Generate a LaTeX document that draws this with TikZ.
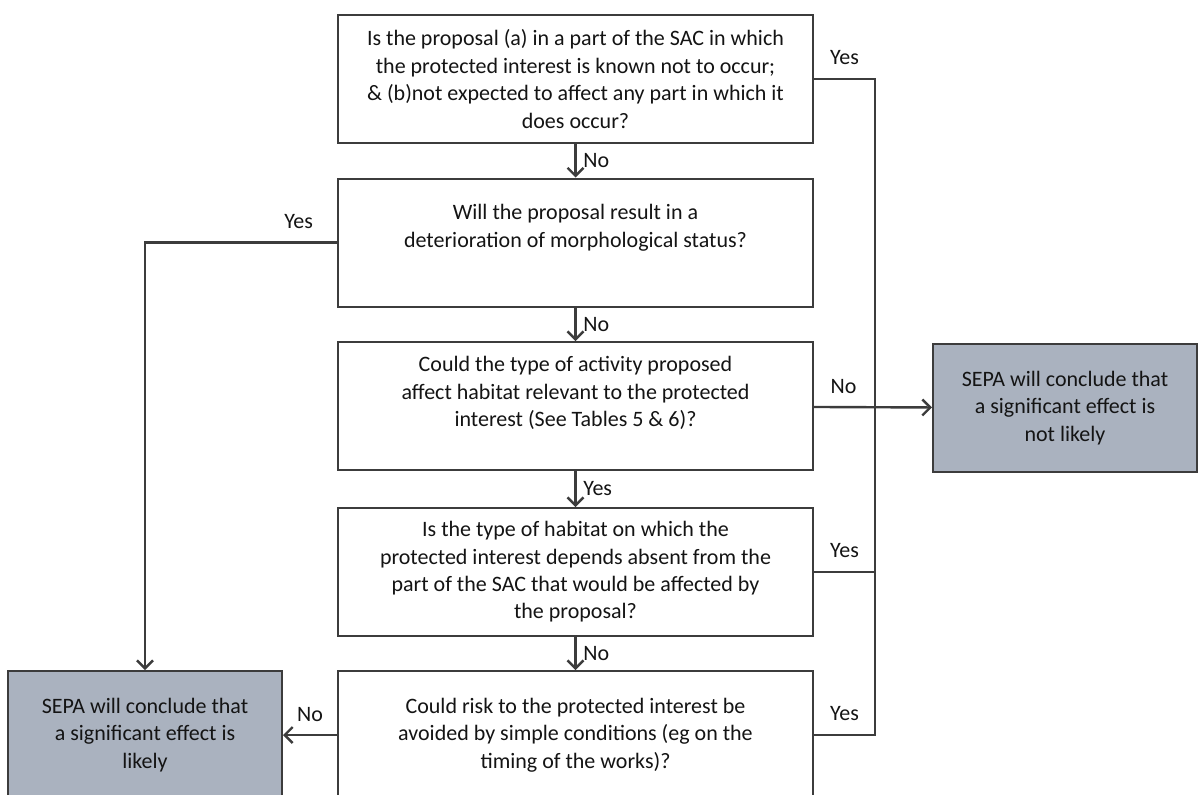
\documentclass[tikz,border=0pt]{standalone}
\usepackage{fontspec}
\setmainfont{Carlito}
\usetikzlibrary{arrows.meta}
\definecolor{linegray}{RGB}{60,60,60}
\definecolor{endfill}{RGB}{170,178,191}

\begin{document}
\begin{tikzpicture}[x=0.5pt,y=-0.5pt,
  every node/.style={font=\fontsize{11}{13.7}\selectfont, text=black!92},
  question/.style={draw=linegray, line width=1pt, fill=white, align=center, minimum width=237.5pt, minimum height=64pt, inner sep=2pt},
  outcome/.style={draw=linegray, line width=1pt, fill=endfill, align=center, minimum height=64pt, inner sep=2pt},
  flow/.style={draw=linegray, line width=1.2pt},
  flowarrow/.style={flow, -{Straight Barb[length=4pt, width=8pt, line width=1.2pt]}},
  answer/.style={above=3pt}]
\useasboundingbox (0,0) rectangle (1198,794);
\node[question] (q1) at (575.5,79) {Is the proposal (a) in a part of the SAC in which\\the protected interest is known not to occur;\\\& (b)not expected to affect any part in which it\\does occur?};
\node[question] (q2) at (575.5,242.5) {Will the proposal result in a\\deterioration of morphological status?\\[3pt]\mbox{}};
\node[question] (q3) at (575.5,406) {Could the type of activity proposed\\affect habitat relevant to the protected\\interest (See Tables 5 \& 6)?\\[0.8pt]\mbox{}};
\node[question] (q4) at (575.5,572) {Is the type of habitat on which the\\protected interest depends absent from the\\part of the SAC that would be affected by\\the proposal?};
\node[question] (q5) at (575.5,735) {Could risk to the protected interest be\\avoided by simple conditions (eg on the\\timing of the works)?};
\node[outcome, minimum width=132pt] (notlikely) at (1065,408) {SEPA will conclude that\\a significant effect is\\not likely};
\node[outcome, minimum width=137pt] (likely) at (145,735) {SEPA will conclude that\\a significant effect is\\likely};
\coordinate (bus) at (875,0);
\draw[flowarrow] (q1) -- node[right]{No} (q2);
\draw[flowarrow] (q2) -- node[right]{No} (q3);
\draw[flowarrow] (q3) -- node[right]{Yes} (q4);
\draw[flowarrow] (q4) -- node[right]{No} (q5);
\draw[flowarrow] (q2.west) -| node[answer, pos=0.1]{Yes} (likely);
\draw[flowarrow] (q5) -- node[answer]{No} (likely);
\draw[flowarrow] (q3) -- node[answer, pos=0.25]{No} (notlikely);
\draw[flow] (q1.east) -- node[answer]{Yes} (q1.east -| bus) -- (q5.east -| bus) -- node[answer]{Yes} (q5.east);
\draw[flow] (q4.east) -- node[answer]{Yes} (q4.east -| bus);
\end{tikzpicture}
\end{document}
